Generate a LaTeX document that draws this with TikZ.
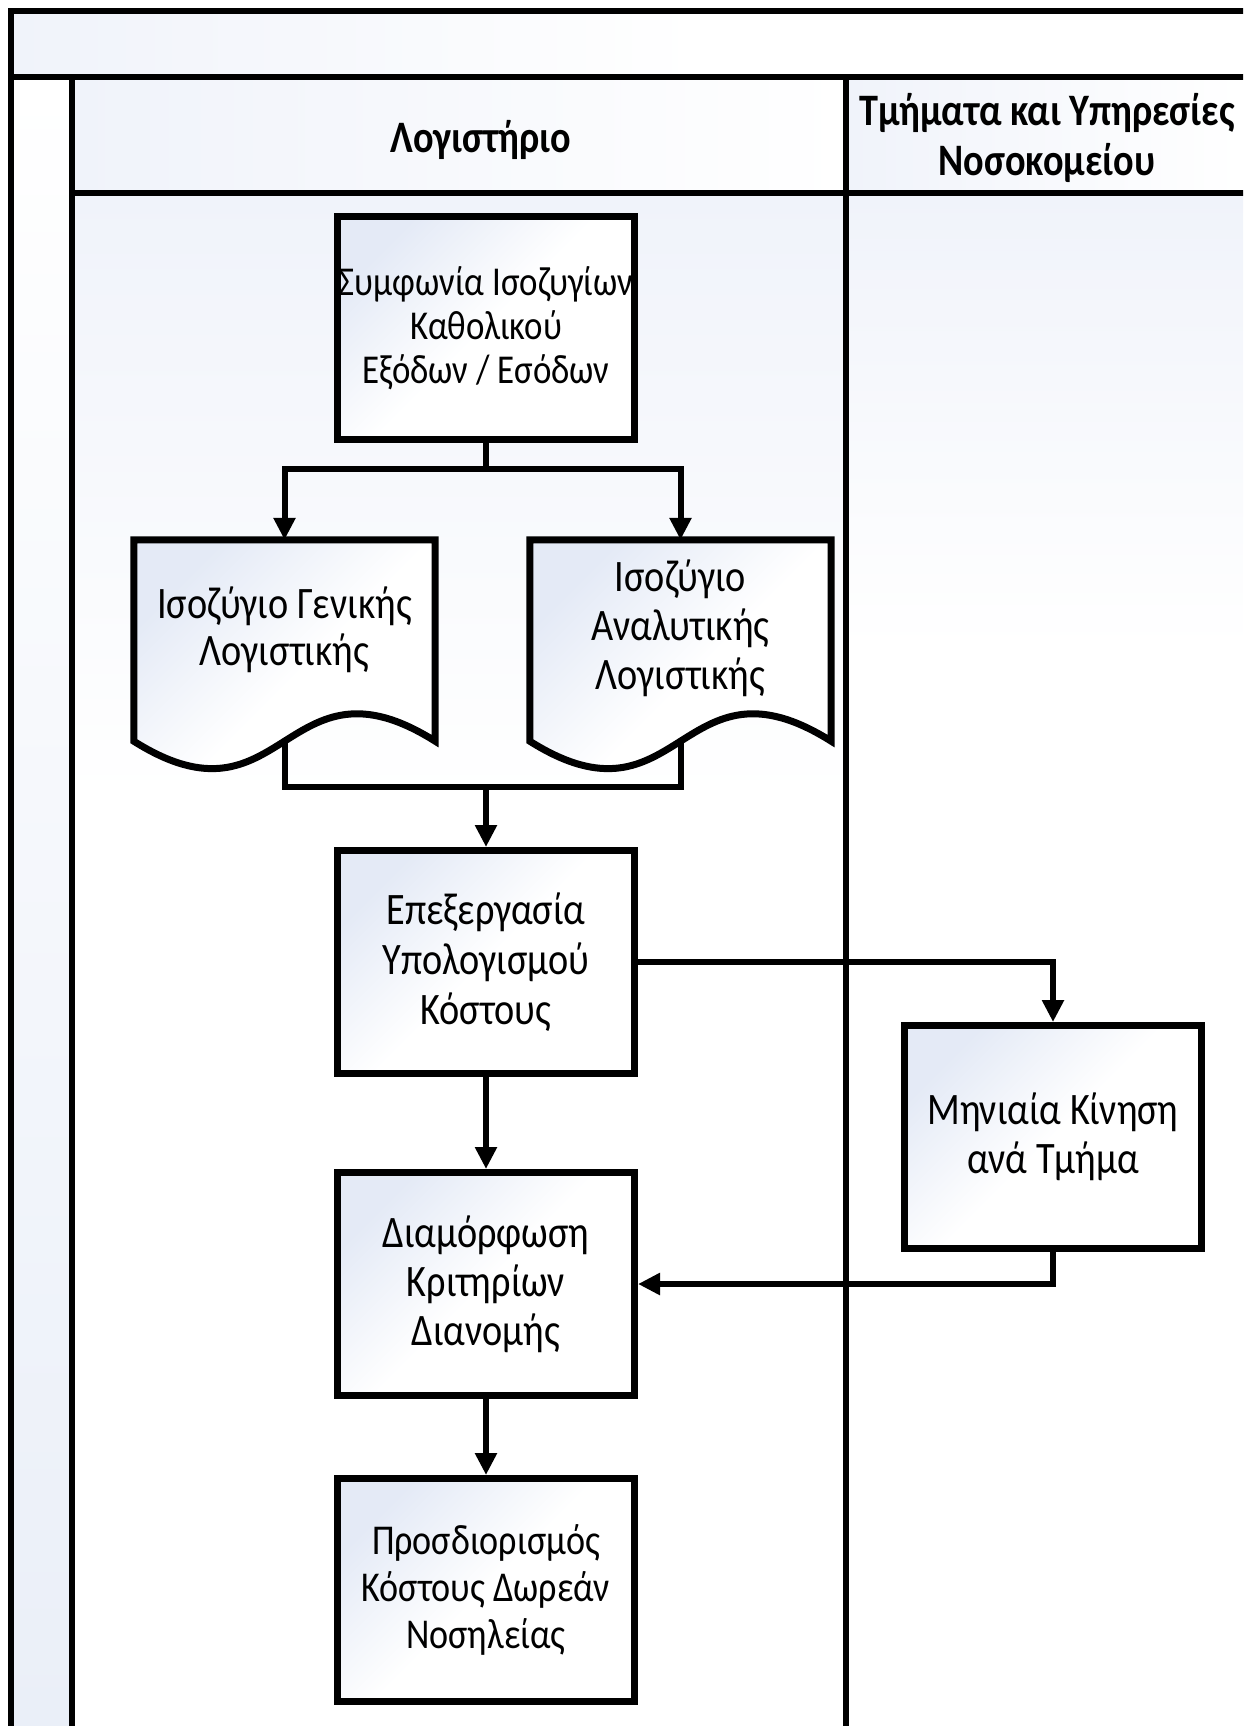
\documentclass[tikz,border=0pt]{standalone}
\usepackage{fontspec}
\setmainfont{Carlito}
\newfontfamily\nf[FakeStretch=0.85]{Carlito}
\usetikzlibrary{arrows.meta,calc}
\definecolor{lb}{RGB}{228,234,246}
\definecolor{lb2}{RGB}{234,239,248}
\definecolor{lb3}{RGB}{240,243,250}
\begin{document}
\begin{tikzpicture}[x=1pt,y=-1pt,
  lane/.style={draw=black, line width=5.5pt},
  grad/.style={top color=lb, bottom color=white, middle color=white, shading angle=45},
  lanegrad/.style={left color=lb3, right color=white},
  lanebody/.style={top color=lb3, bottom color=white},
  gradup/.style={top color=white, bottom color=lb2},
  proc/.style={draw=black, line width=7pt, minimum width=297pt, minimum height=223pt,
    inner sep=0pt, align=center, grad, font=\nf\fontsize{45}{49}\selectfont},
  docbox/.style={minimum width=301pt, minimum height=201pt, inner sep=0pt},
  docline/.style={draw=black, line width=7pt, grad, line join=miter},
  txt/.style={align=center, font=\nf\fontsize{45}{49}\selectfont, inner sep=0pt},
  hdr/.style={align=center, font=\nf\bfseries\fontsize{45}{50}\selectfont, inner sep=0pt},
  arr/.style={line width=6pt, -{Triangle[length=22pt,width=21pt]}},
  con/.style={line width=6pt},
]
\useasboundingbox (0,0) rectangle (1243,1726);
\clip (0,0) rectangle (1243,1726);
\fill[white] (0,0) rectangle (1243,1726);
% pool / lanes
\path[lanegrad] (11,11) rectangle (700,77);
\path[gradup] (11,77) rectangle (72,1726);
\path[lanegrad] (72,77) rectangle (846,193);
\path[lanegrad] (846,77) rectangle (1243,193);
\path[lanebody] (72,193) rectangle (846,800);
\path[lanebody] (846,193) rectangle (1243,650);
\draw[lane] (11,1800) -- (11,11) -- (1300,11);
\draw[lane] (11,77) -- (1300,77);
\draw[lane] (72,77) -- (72,1800);
\draw[lane] (72,193) -- (1300,193);
\draw[lane] (846,77) -- (846,1800);
\node[hdr] (h1) at (481,140) {Λογιστήριο};
\node[hdr] (h2) at (1047,138) {Τμήματα και Υπηρεσίες\\Νοσοκομείου};
% process boxes
\node[proc, font=\nf\fontsize{41}{44}\selectfont] (b1) at (486,328) {Συμφωνία Ισοζυγίων\\Καθολικού\\Εξόδων / Εσόδων};
\node[proc, font=\nf\fontsize{45}{50}\selectfont] (b3) at (486,962) {Επεξεργασία\\Υπολογισμού\\Κόστους};
\node[proc] (b4) at (1053,1137) {Μηνιαία Κίνηση\\ανά Τμήμα};
\node[proc] (b5) at (486,1284) {Διαμόρφωση\\Κριτηρίων\\Διανομής};
\node[proc, font=\nf\fontsize{42.5}{47}\selectfont] (b6) at (486,1590) {Προσδιορισμός\\Κόστους Δωρεάν\\Νοσηλείας};
% documents
\node[docbox] (d1) at (284.5,640.5) {};
\node[docbox] (d2) at (680.5,640.5) {};
\path[docline] (d1.north west) -- (d1.north east) -- (d1.south east)
  .. controls ($(d1.south)+(0,-95)$) and ($(d1.south)+(0,95)$) .. (d1.south west) -- cycle;
\path[docline] (d2.north west) -- (d2.north east) -- (d2.south east)
  .. controls ($(d2.south)+(0,-95)$) and ($(d2.south)+(0,95)$) .. (d2.south west) -- cycle;
\node[txt, font=\nf\fontsize{45}{47}\selectfont] (t1) at (284.5,630) {Ισοζύγιο Γενικής\\Λογιστικής};
\node[txt] (t2) at (680.5,628) {Ισοζύγιο\\Αναλυτικής\\Λογιστικής};
% connectors
\coordinate (s1) at (486,469);
\coordinate (m1) at (486,787);
\draw[con] (b1.south) -- (s1);
\draw[arr] (s1) -| (d1.north);
\draw[arr] (s1) -| (d2.north);
\draw[con] (d1.south) |- (m1) -| (d2.south);
\draw[arr] (m1) -- (b3.north);
\draw[arr] (b3.east) -| (b4.north);
\draw[arr] (b3.south) -- (b5.north);
\draw[arr] (b4.south) |- (b5.east);
\draw[arr] (b5.south) -- (b6.north);
\end{tikzpicture}
\end{document}
